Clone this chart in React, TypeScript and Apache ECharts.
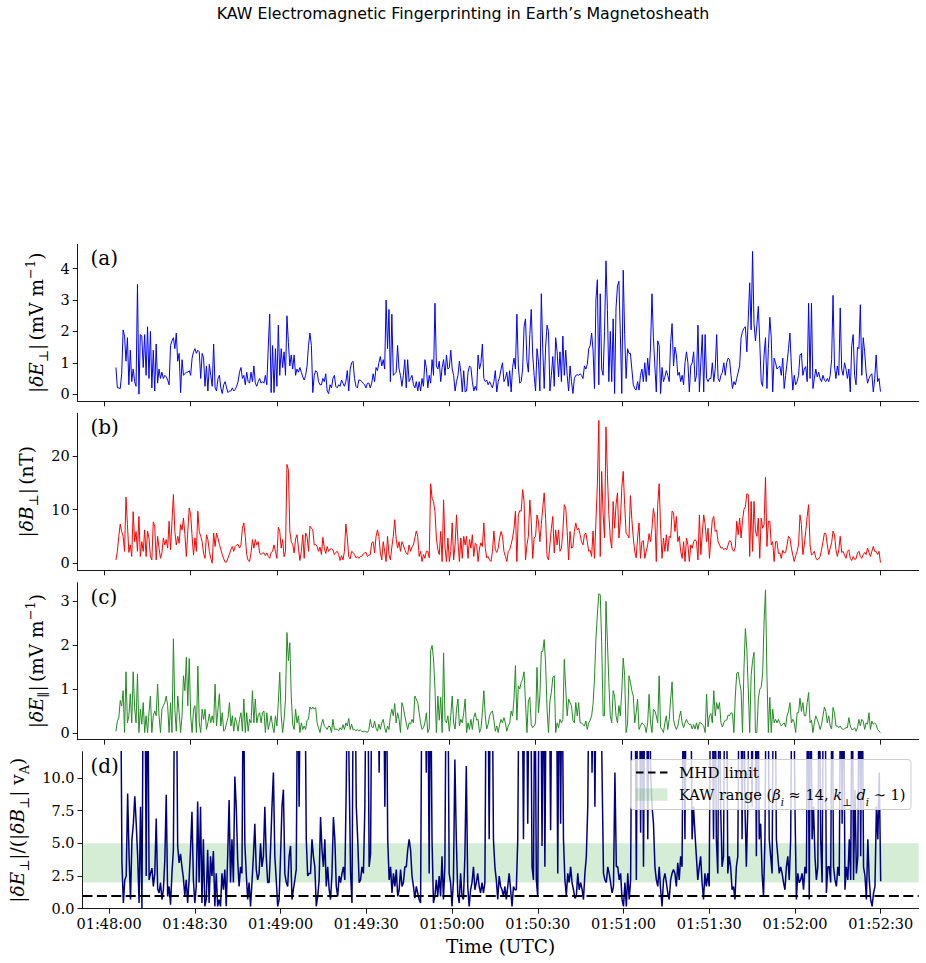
import React, { useEffect, useRef } from "react";
import * as echarts from "echarts";

// Sampling: first sample 4 s after 01:48:00 UTC, one sample every 0.5 s.
const T_START = 4;
const T_STEP = 0.5;

// |dE_perp| (mV/m)
const ePerp = [
  0.85,0.2,0.2,0.18,0.65,2.05,1.85,1.05,1.8,0.3,
  1.4,0.4,0.8,0.4,0.25,3.5,0.0,1.9,1.85,0.85,
  1.9,0.6,2.15,0.5,2.0,0.2,1.4,0.1,1.6,0.35,
  0.8,0.5,0.7,0.5,0.6,0.55,0.45,0.3,1.55,1.7,
  1.8,1.45,1.95,1.05,1.3,0.05,1.1,0.6,0.65,0.7,
  0.7,0.75,0.6,1.15,1.35,1.45,1.3,1.4,1.35,0.5,
  1.3,1.15,0.25,0.9,0.1,0.95,0.6,0.25,1.6,0.2,
  0.1,0.5,0.6,0.2,0.02,0.3,0.4,0.2,0.05,0.1,
  0.1,0.2,0.1,0.15,0.25,0.4,0.7,0.85,0.5,0.6,
  0.3,0.7,0.4,0.35,0.7,0.4,0.9,0.35,0.25,0.4,
  0.5,0.35,0.4,0.35,0.6,0.3,1.5,2.55,0.05,1.55,
  0.05,1.45,0.25,2.2,0.6,1.45,0.85,1.35,0.6,2.5,
  1.65,0.9,1.25,0.8,1.25,0.6,0.8,0.7,0.85,0.7,
  0.55,0.45,0.6,0.9,1.55,1.95,1.55,0.05,0.6,0.75,
  0.7,0.4,0.3,0.3,0.5,0.4,0.65,0.1,0.02,0.3,
  0.2,0.5,0.6,0.25,0.2,0.3,0.25,0.45,0.35,0.25,
  0.4,0.75,0.1,0.8,1.0,1.05,0.5,0.25,0.2,0.45,
  0.45,0.4,0.35,0.3,0.2,0.35,0.35,0.2,0.35,0.65,
  0.4,0.85,0.75,1.0,1.2,0.9,1.1,0.8,3.0,1.45,
  2.7,0.4,2.55,0.6,0.65,0.7,1.55,0.8,0.6,0.25,
  0.6,1.1,0.2,1.1,0.4,0.5,0.6,0.3,0.2,0.4,
  0.1,0.4,0.1,0.5,0.25,1.1,0.85,0.2,0.6,0.35,
  1.1,0.6,2.9,0.9,0.8,1.05,0.4,0.85,1.1,0.6,
  1.25,0.8,0.85,1.4,0.8,0.6,0.1,0.4,0.6,1.05,
  0.7,0.07,0.75,0.07,0.1,0.7,0.9,0.85,0.4,0.1,
  0.25,0.12,1.25,0.8,1.0,1.6,0.5,0.4,0.45,0.3,
  0.4,0.3,0.2,0.4,0.75,0.07,0.4,0.55,0.8,1.0,
  0.4,0.5,0.7,0.25,0.75,0.07,0.85,1.15,0.8,2.55,
  0.9,0.35,0.4,0.8,2.15,2.4,1.05,0.7,1.9,2.7,
  1.25,0.6,0.1,1.45,1.05,0.1,3.2,1.45,0.18,1.5,
  2.2,2.0,0.1,0.6,1.2,0.25,1.8,1.35,0.55,1.35,
  0.4,1.85,0.6,1.4,0.6,0.1,0.9,0.4,0.02,0.5,
  0.6,0.62,0.6,0.65,0.6,0.5,0.9,0.8,0.95,1.45,
  1.55,1.95,1.4,0.18,3.0,3.65,0.3,3.2,0.8,0.6,
  2.0,4.25,2.7,0.4,2.0,0.4,2.4,0.02,2.75,3.45,
  3.6,1.9,0.02,3.95,1.9,0.5,1.45,1.3,1.3,0.8,
  0.3,0.18,0.13,0.4,0.13,0.6,0.8,0.4,1.0,0.4,
  1.15,0.6,1.5,3.2,1.8,0.9,0.07,1.7,1.55,0.02,
  0.85,0.4,0.55,0.75,0.6,0.4,1.65,2.25,0.9,1.5,
  1.25,0.6,0.7,0.4,0.6,0.3,1.0,1.35,1.0,0.07,
  0.9,1.0,1.35,0.4,0.6,2.2,0.07,1.0,1.9,0.07,
  1.9,0.5,0.4,0.5,0.5,1.0,0.4,0.8,1.9,0.5,
  0.4,0.6,0.7,1.0,0.6,1.0,1.15,1.1,0.6,0.18,
  0.4,0.3,0.5,0.7,0.9,1.8,2.0,2.1,2.15,1.35,
  2.4,3.55,2.05,4.55,2.25,1.7,2.2,2.8,1.65,0.4,
  0.25,1.25,1.8,0.18,1.45,2.45,1.8,0.07,1.15,1.0,
  0.8,0.85,0.9,0.6,1.15,0.18,0.6,1.0,1.45,1.95,
  0.9,0.13,0.6,0.3,0.4,0.6,1.25,1.3,0.6,0.8,
  0.88,0.4,2.9,0.5,2.9,0.18,0.5,0.8,0.55,0.7,
  0.5,0.4,0.6,0.45,0.4,0.5,0.4,0.6,1.1,3.15,
  0.9,0.5,0.9,0.6,2.75,0.8,0.6,1.0,0.8,0.5,
  0.8,0.07,1.55,1.9,0.6,0.3,1.5,1.45,2.85,0.6,
  1.8,1.35,0.7,0.35,0.5,0.6,0.65,0.07,0.5,1.25,
  0.4,0.5,0.08,
];

// |dB_perp| (nT)
const bPerp = [
  0.6,2.2,5.0,7.3,5.9,5.0,2.2,12.3,7.2,2.0,
  3.4,1.25,9.6,4.0,5.9,2.2,8.7,1.25,4.0,2.2,
  6.2,1.25,6.0,4.7,1.25,0.6,7.7,6.9,0.6,5.0,
  2.8,0.9,1.9,4.7,3.4,4.4,2.8,7.8,2.5,7.8,
  12.8,5.9,3.4,5.0,3.7,7.2,6.2,8.4,5.3,1.25,
  5.9,10.3,9.0,5.0,1.5,4.7,2.2,9.7,5.9,5.0,
  4.0,1.8,0.9,5.3,4.4,2.2,0.9,0.0,5.6,3.1,
  5.6,4.7,3.5,2.5,1.6,0.8,0.2,0.2,1.0,1.7,
  2.5,3.1,2.2,3.1,3.4,3.5,2.8,3.4,6.5,7.5,
  5.0,1.6,0.5,0.3,1.9,4.4,2.8,4.4,3.4,4.0,
  1.9,1.6,1.9,1.9,1.4,1.9,1.25,0.9,2.0,2.2,
  3.4,2.2,0.9,6.7,5.9,2.8,4.4,1.2,2.2,18.4,
  17.4,6.0,4.0,3.5,1.9,4.5,5.3,2.8,0.5,2.2,
  5.3,0.9,5.6,5.0,2.2,6.9,6.5,6.2,3.4,3.5,
  3.1,2.2,3.0,1.6,4.8,2.8,1.8,3.1,2.2,2.6,
  2.7,2.5,1.6,2.0,2.2,1.6,0.5,1.4,0.6,2.2,
  7.3,4.7,1.2,0.8,2.2,2.0,1.6,1.0,1.25,0.9,
  1.25,1.25,1.7,1.9,2.0,1.25,1.5,1.6,3.8,4.0,
  1.9,5.0,6.2,5.0,1.9,0.6,4.0,2.2,0.3,5.0,
  1.6,0.6,3.0,5.0,8.1,4.5,2.8,4.0,2.2,4.0,
  3.4,2.5,1.9,1.6,3.4,2.2,3.0,3.4,4.7,6.0,
  5.0,1.25,2.2,0.3,1.6,0.9,2.2,2.2,1.0,14.8,
  12.1,11.5,9.6,4.7,2.5,1.6,5.9,0.3,11.8,3.0,
  0.3,4.7,0.3,2.2,7.5,0.6,3.4,9.0,4.0,0.3,
  4.7,0.9,5.0,3.4,5.0,0.9,4.4,2.8,5.3,1.25,
  3.7,3.4,0.3,2.8,3.8,3.1,7.5,2.8,1.0,1.25,
  0.6,0.3,2.2,6.0,2.5,2.0,2.8,4.7,5.9,5.0,
  2.2,1.25,0.3,2.2,2.5,3.5,4.7,6.5,9.7,0.3,
  9.0,9.8,9.7,13.7,11.5,0.6,3.4,5.0,11.8,7.8,
  0.9,4.7,5.0,9.0,7.8,4.0,7.2,10.3,13.1,8.4,
  1.25,0.6,3.4,6.5,8.7,1.9,6.2,3.4,6.2,2.2,
  2.8,6.0,10.9,10.3,5.9,0.6,5.9,2.8,3.0,5.9,
  7.5,6.2,6.5,5.3,4.0,3.4,5.3,5.6,4.0,2.2,
  2.4,1.25,6.0,0.9,7.8,14.6,26.6,1.25,17.1,9.1,
  4.7,25.4,16.5,9.1,4.7,2.8,11.5,6.5,10.9,13.1,
  4.7,7.8,14.0,17.1,10.9,5.5,5.3,4.7,12.6,8.1,
  4.7,2.2,1.0,4.7,7.5,0.9,4.0,4.2,0.9,2.2,
  3.4,5.5,4.0,6.5,10.2,8.4,0.3,10.9,14.8,6.5,
  0.9,4.7,2.2,5.3,2.2,5.0,4.7,9.7,9.4,5.9,
  8.7,4.0,5.0,2.2,0.9,4.0,0.3,4.7,3.4,0.3,
  3.4,2.8,4.0,4.4,4.0,0.6,9.0,1.6,5.6,9.0,
  7.2,4.0,6.5,0.9,4.7,8.1,8.7,5.9,6.2,4.0,
  3.4,2.8,2.9,2.5,2.8,2.5,3.4,4.2,4.0,2.5,
  2.2,3.0,7.8,5.3,8.4,4.7,8.0,10.0,10.5,12.9,
  12.8,1.25,11.5,2.2,11.5,6.0,5.0,8.4,0.9,8.4,
  6.5,7.2,16.0,3.1,7.8,7.8,3.4,4.0,0.3,4.0,
  4.0,1.8,1.9,0.9,2.4,1.9,2.0,3.4,5.0,4.7,
  2.8,1.5,0.3,1.4,2.2,3.4,9.0,7.2,1.6,3.4,
  5.9,8.7,10.9,3.4,1.5,1.8,2.2,1.0,0.6,0.8,
  1.25,2.5,4.0,5.6,5.5,3.4,1.6,2.8,3.8,6.0,
  5.3,2.5,1.25,2.5,5.0,2.0,2.2,1.5,0.9,2.2,
  2.5,0.9,0.5,1.25,0.7,0.8,1.9,2.2,1.25,0.9,
  1.6,2.0,1.6,2.8,2.0,1.25,2.2,3.1,2.2,2.2,
  1.6,2.2,0.1,
];

// |dE_par| (mV/m)
const ePar = [
  0.05,0.28,0.35,0.75,0.62,0.97,0.02,1.4,0.24,0.4,
  0.9,0.24,1.4,0.59,0.24,1.35,0.02,0.55,0.21,0.7,
  0.02,0.4,0.02,0.47,0.85,0.02,0.4,0.51,0.4,1.12,
  0.4,0.02,0.55,0.63,0.7,0.85,0.63,0.02,0.7,0.02,
  2.15,0.55,0.05,0.85,0.47,0.02,0.4,1.31,0.97,1.73,
  0.63,1.7,0.4,0.02,0.55,0.63,0.02,1.53,0.24,0.02,
  0.55,0.32,0.55,0.09,0.24,0.44,0.24,0.4,0.24,1.12,
  0.17,0.55,0.9,0.17,0.47,0.05,0.09,0.24,0.36,0.7,
  0.17,0.4,0.05,0.36,0.24,0.05,0.32,0.47,0.05,0.78,
  0.02,0.47,0.05,0.32,0.24,0.97,0.24,0.78,0.24,0.4,
  0.47,0.24,0.47,0.51,0.02,0.47,0.09,0.24,0.4,0.17,
  0.02,0.4,0.17,0.7,1.39,0.4,0.02,0.32,0.78,2.29,
  1.65,2.06,0.85,0.2,0.09,0.55,0.24,0.4,0.02,0.24,
  0.09,0.17,0.09,0.3,0.32,0.6,0.55,0.6,0.55,0.59,
  0.24,0.13,0.02,0.21,0.32,0.17,0.14,0.09,0.17,0.15,
  0.02,0.32,0.09,0.1,0.09,0.06,0.13,0.08,0.2,0.09,
  0.24,0.17,0.34,0.09,0.21,0.08,0.09,0.06,0.09,0.05,
  0.08,0.05,0.04,0.05,0.04,0.02,0.09,0.32,0.15,0.13,
  0.28,0.12,0.05,0.21,0.09,0.24,0.32,0.13,0.02,0.17,
  0.09,0.4,0.55,0.4,0.68,0.24,0.47,0.32,0.02,0.7,
  0.59,0.4,0.24,0.09,0.24,0.21,0.32,0.24,0.85,0.78,
  0.7,0.47,0.24,0.09,0.13,0.24,0.47,0.02,0.1,1.88,
  2.0,1.69,1.01,0.02,0.85,0.3,0.82,0.02,1.83,0.3,
  0.24,0.4,0.05,0.4,0.85,0.24,0.1,0.55,0.78,0.17,
  0.32,0.24,0.47,0.78,0.02,0.24,0.09,0.32,0.09,0.36,
  0.47,0.3,0.32,0.02,0.11,0.47,0.97,0.4,0.1,0.21,
  0.4,0.47,0.51,0.3,0.05,0.17,0.02,0.2,0.32,0.24,
  0.36,0.24,0.05,0.17,0.24,0.51,0.4,0.78,1.54,0.3,
  1.08,1.01,1.16,1.24,1.4,0.7,0.02,0.74,0.82,0.2,
  0.13,0.17,0.24,1.5,0.47,0.85,1.86,1.86,2.13,1.57,
  0.55,0.02,0.74,0.93,1.27,1.31,0.02,0.24,0.13,0.32,
  0.24,0.32,1.68,1.01,0.4,0.78,0.7,0.63,0.3,0.24,
  0.7,0.4,0.7,0.24,0.24,0.2,0.17,0.28,0.09,0.24,
  0.3,0.4,0.66,1.24,2.15,2.69,3.17,3.15,2.08,0.4,
  0.4,3.0,2.08,1.16,0.4,0.24,0.97,0.85,0.4,0.24,
  0.63,0.4,0.97,1.71,1.31,0.02,0.21,1.31,1.16,0.97,
  0.85,0.24,0.47,0.78,0.09,0.17,0.24,0.21,0.17,0.02,
  0.24,0.89,0.24,0.02,0.55,0.51,0.4,0.24,1.31,0.13,
  0.09,0.02,0.24,0.4,0.09,0.32,0.78,1.17,0.32,0.17,
  0.09,0.17,0.36,0.51,0.24,0.13,0.24,0.32,0.24,0.2,
  0.21,0.1,0.2,0.1,0.24,0.09,0.25,0.24,0.2,0.17,
  0.02,0.89,0.15,0.4,0.45,0.24,0.97,0.4,0.7,0.55,
  0.7,0.24,0.15,0.24,0.3,0.3,0.42,0.4,0.47,0.45,
  0.02,0.85,1.37,1.39,1.16,0.97,0.02,1.47,2.38,1.92,
  1.01,0.02,1.31,1.65,1.84,0.02,0.02,0.78,1.0,1.05,
  1.35,2.53,3.26,1.31,0.02,0.82,0.02,0.55,0.24,0.32,
  0.24,0.32,0.24,0.17,0.21,0.24,0.15,0.4,0.5,0.7,
  0.24,0.32,0.24,0.02,0.47,0.47,0.8,0.5,0.7,0.4,
  0.4,0.7,0.93,0.24,0.3,0.02,0.24,0.4,0.32,0.22,
  0.09,0.2,0.4,0.6,0.5,0.24,0.4,0.17,0.1,0.59,
  0.47,0.17,0.17,0.13,0.17,0.11,0.09,0.11,0.13,0.13,
  0.36,0.17,0.09,0.09,0.13,0.05,0.13,0.32,0.17,0.32,
  0.28,0.09,0.24,0.21,0.47,0.09,0.28,0.21,0.24,0.2,
  0.09,0.05,0.02,
];

// |dE_perp| / (|dB_perp| vA); many samples run far above the plotted range
const ratio = [
  20,3.5,0.43,2.2,2.5,8.8,4.0,0.7,5.3,6.5,
  8.6,6.5,4.0,0.43,7.8,0.05,20,20,2.5,20,
  2.2,2.7,3.1,1.7,2.7,6.9,1.5,1.2,2.0,0.7,
  1.45,3.7,8.7,0.94,1.7,0.3,2.7,4.5,20,20,
  4.8,3.5,4.2,3.2,2.35,1.0,2.2,0.43,2.2,4.5,
  7.4,2.2,0.43,1.7,8.2,2.0,7.8,0.43,5.3,0.18,
  0.7,4.5,0.43,4.0,2.5,4.4,0.18,2.7,0.18,0.7,
  0.18,2.7,1.45,3.0,0.18,4.0,8.3,2.0,5.3,2.0,
  10.1,7.8,3.7,1.7,3.2,2.7,20,5.0,2.7,0.7,
  2.0,0.18,2.0,4.0,6.5,3.0,2.2,2.7,5.0,3.2,
  4.0,7.8,4.0,2.0,2.0,4.5,7.8,10.4,4.0,2.2,
  0.18,0.7,4.0,7.8,9.1,2.7,2.0,1.7,4.0,4.8,
  0.7,1.5,2.2,3.0,20,7.8,20,20,20,20,
  5.3,2.5,2.7,2.7,5.3,4.0,3.2,0.18,0.94,2.2,
  7.0,4.5,3.2,5.3,1.7,3.2,1.5,0.7,2.7,7.0,
  5.3,1.7,0.94,2.5,2.0,2.7,3.2,2.2,9.6,20,
  10.4,2.7,0.43,20,20,7.8,5.3,2.0,2.2,3.2,
  2.7,7.8,20,20,3.2,4.2,20,20,20,20,
  20,10.4,20,20,20,7.8,20,5.3,2.2,3.2,
  1.2,2.7,1.7,3.0,0.94,1.45,3.0,1.7,2.0,3.2,
  3.2,4.5,5.3,4.5,2.5,1.7,0.8,1.7,1.2,0.7,
  0.43,20,20,20,10.4,20,2.7,20,5.3,0.43,
  0.94,2.2,0.94,2.5,0.94,4.0,0.7,3.2,20,20,
  2.7,2.0,0.18,2.2,11.4,5.3,1.2,0.43,2.7,0.94,
  0.7,4.0,10.9,1.7,0.18,1.45,2.0,3.2,1.45,2.0,
  2.7,1.7,1.2,2.0,1.2,2.0,20,20,5.3,20,
  20,5.3,3.2,2.2,0.7,2.5,1.7,1.45,0.94,1.7,
  0.7,1.7,2.7,1.45,0.18,1.7,1.45,1.45,5.3,20,
  20,20,5.3,20,20,6.5,20,20,3.2,2.2,
  20,2.2,0.94,20,20,4.8,20,3.2,20,20,
  20,6.0,20,20,20,20,2.7,20,6.5,20,
  5.3,2.2,1.0,2.7,2.0,3.2,2.0,1.45,0.8,0.94,
  2.7,1.45,2.0,1.5,0.7,2.7,4.0,7.8,20,20,
  10.4,20,7.8,20,20,20,20,10.4,2.7,2.2,
  2.0,3.2,2.7,2.0,1.2,1.7,10.4,3.2,3.2,2.2,
  2.7,0.7,0.18,2.0,0.18,2.7,0.7,2.2,20,20,
  20,2.2,20,20,5.8,20,3.2,20,20,5.3,
  20,10.4,7.8,6.5,3.2,2.2,1.7,3.2,1.45,0.18,
  2.2,2.7,2.0,1.2,0.7,2.2,2.7,3.0,2.7,1.7,
  3.5,2.2,4.0,3.2,20,5.3,20,20,20,20,
  5.3,7.8,5.8,4.0,2.2,3.2,4.0,2.0,0.7,2.7,
  1.7,2.7,1.7,20,20,5.3,20,5.3,2.7,20,
  7.8,3.2,4.0,20,20,2.7,4.0,3.2,1.45,1.7,
  0.7,3.2,4.0,20,20,5.3,20,7.8,3.2,7.8,
  20,20,7.8,20,20,4.0,20,5.3,6.5,2.7,
  0.94,5.3,20,20,5.3,4.0,2.7,20,20,5.3,
  4.0,2.7,3.2,2.7,2.0,1.45,3.2,4.0,2.2,5.3,
  20,20,7.8,0.7,2.7,2.0,2.2,2.7,1.45,3.2,
  2.7,20,0.7,20,5.3,7.8,4.0,2.2,3.2,20,
  5.3,2.0,20,20,1.2,3.2,3.2,2.0,20,3.2,
  2.2,1.7,3.2,2.5,20,6.5,20,1.45,3.2,2.2,
  5.3,2.2,20,2.2,9.1,2.7,4.0,20,4.0,20,
  3.2,2.5,0.7,5.3,2.2,0.7,0.18,1.2,1.7,7.8,
  5.3,10.4,2.1,
];

const TIME_TICKS = [0, 30, 60, 90, 120, 150, 180, 210, 240, 270];
const E_PERP_TICKS = [0, 1, 2, 3, 4];
const B_PERP_TICKS = [0, 10, 20];
const E_PAR_TICKS = [0, 1, 2, 3];
const RATIO_TICKS = [0, 2.5, 5, 7.5, 10];
const RATIO_RANGE = [0, 12];
const KAW_BAND = [2, 5];
const MHD_LIMIT = 1;
const PANEL_LETTERS = ["(a)", "(b)", "(c)", "(d)"];

const TITLE = "KAW Electromagnetic Fingerprinting in Earth\u2019s Magnetosheath";
const SERIF = "'DejaVu Serif', serif";
const BAND_COLOR = "rgba(44,160,44,0.2)";

const GRID_LEFT = 77.7;
const GRID_WIDTH = 841;
const GRID_TOPS = [244.3, 413.3, 582.7, 751.7];
const GRID_HEIGHT = 157;

const toPairs = (vals: number[]) => vals.map((v, i) => [T_START + i * T_STEP, v]);

// 5 % padding on both sides, like matplotlib's default autoscale margins
const padded = (lo: number, hi: number) => {
  const m = (hi - lo) * 0.05;
  return [lo - m, hi + m];
};
const valueRange = (vals: number[]) => padded(Math.min(...vals), Math.max(...vals));

const two = (n: number) => String(n).padStart(2, "0");
const clock = (s: number) => {
  const total = 48 * 60 + Math.round(s);
  return `01:${two(Math.floor(total / 60))}:${two(total % 60)}`;
};

const rich = (size: number) => ({
  n: { fontFamily: SERIF, fontSize: size, lineHeight: 26, color: "#000" },
  i: { fontFamily: SERIF, fontSize: size, fontStyle: "italic", lineHeight: 26, color: "#000" },
  sb: { fontFamily: SERIF, fontSize: size * 0.7, verticalAlign: "bottom", lineHeight: 17, color: "#000" },
  sbi: { fontFamily: SERIF, fontSize: size * 0.7, fontStyle: "italic", verticalAlign: "bottom", lineHeight: 17, color: "#000" },
  sp: { fontFamily: SERIF, fontSize: size * 0.7, verticalAlign: "top", lineHeight: 17, color: "#000" },
});

const Y_NAMES = [
  "{n||}{i|\u03b4E}{sb|\u22a5}{n||} {n|(mV m}{sp|\u22121}{n|)}",
  "{n||}{i|\u03b4B}{sb|\u22a5}{n||} {n|(nT)}",
  "{n||}{i|\u03b4E}{sb|\u2225}{n||} {n|(mV m}{sp|\u22121}{n|)}",
  "{n||}{i|\u03b4E}{sb|\u22a5}{n||/(|}{i|\u03b4B}{sb|\u22a5}{n|| v}{sb|A}{n|)}",
];
const Y_NAME_GAPS = [27, 38, 27, 52];

export default function App() {
  const ref = useRef<HTMLDivElement>(null);

  useEffect(() => {
    if (!ref.current) return;
    const chart = echarts.init(ref.current, undefined, { renderer: "svg" });

    const tEnd = T_START + (ePerp.length - 1) * T_STEP;
    const [xMin, xMax] = padded(T_START, tEnd);

    const yRanges = [valueRange(ePerp), valueRange(bPerp), valueRange(ePar), RATIO_RANGE];
    const yTicks = [E_PERP_TICKS, B_PERP_TICKS, E_PAR_TICKS, RATIO_TICKS];
    const yFormat = [
      (v: number) => String(v),
      (v: number) => String(v),
      (v: number) => String(v),
      (v: number) => v.toFixed(1),
    ];

    const axisLine = { show: true, onZero: false, lineStyle: { color: "#000", width: 0.9 } };
    const tickStyle = { color: "#000", width: 0.9 };

    const grids = GRID_TOPS.map((top) => ({
      left: GRID_LEFT,
      top,
      width: GRID_WIDTH,
      height: GRID_HEIGHT,
      containLabel: false,
    }));

    const xAxes = GRID_TOPS.map((_, i) => ({
      type: "value",
      gridIndex: i,
      min: xMin,
      max: xMax,
      axisLine,
      axisTick: { show: true, customValues: TIME_TICKS, length: 5, lineStyle: tickStyle },
      axisLabel: {
        show: i === 3,
        customValues: TIME_TICKS,
        formatter: clock,
        fontFamily: SERIF,
        fontSize: 14.5,
        color: "#000",
        margin: 8,
      },
      splitLine: { show: false },
      name: i === 3 ? "Time (UTC)" : "",
      nameLocation: "middle",
      nameGap: 28,
      nameTextStyle: { fontFamily: SERIF, fontSize: 18.5, color: "#000", verticalAlign: "top" },
    }));

    const yAxes = GRID_TOPS.map((_, i) => ({
      type: "value",
      gridIndex: i,
      min: yRanges[i][0],
      max: yRanges[i][1],
      axisLine,
      axisTick: { show: true, customValues: yTicks[i], length: 5, lineStyle: tickStyle },
      axisLabel: {
        customValues: yTicks[i],
        formatter: yFormat[i],
        fontFamily: SERIF,
        fontSize: 14.5,
        color: "#000",
        margin: 8,
      },
      splitLine: { show: false },
      name: Y_NAMES[i],
      nameLocation: "middle",
      nameGap: Y_NAME_GAPS[i],
      nameTextStyle: { rich: rich(18.5) },
    }));

    const lineSeries = (data: number[], idx: number, color: string, width: number) => ({
      type: "line",
      xAxisIndex: idx,
      yAxisIndex: idx,
      data: toPairs(data),
      showSymbol: false,
      symbol: "none",
      clip: true,
      silent: true,
      lineStyle: { color, width },
      itemStyle: { color },
      z: 3,
    });

    const ratioSeries: any = lineSeries(ratio, 3, "#000080", 1.5);
    ratioSeries.markArea = {
      silent: true,
      itemStyle: { color: BAND_COLOR },
      data: [[{ yAxis: KAW_BAND[0] }, { yAxis: KAW_BAND[1] }]],
    };
    ratioSeries.markLine = {
      silent: true,
      symbol: ["none", "none"],
      label: { show: false },
      lineStyle: { color: "#000", width: 2.2, type: [10, 4.4] },
      data: [{ yAxis: MHD_LIMIT }],
    };

    const letters = PANEL_LETTERS.map((t, i) => ({
      type: "text",
      x: 90.5,
      y: GRID_TOPS[i] + 14,
      z: 50,
      style: { text: t, fontFamily: SERIF, fontSize: 20, fill: "#000", verticalAlign: "middle" },
    }));

    const legend = [
      {
        type: "rect",
        z: 100,
        shape: { x: 630.5, y: 759.5, width: 280.5, height: 50, r: 3 },
        style: { fill: "rgba(255,255,255,0.8)", stroke: "#cccccc", lineWidth: 1 },
      },
      {
        type: "line",
        z: 101,
        shape: { x1: 636, y1: 772.5, x2: 667.5, y2: 772.5 },
        style: { stroke: "#000", lineWidth: 2.2, lineDash: [7.5, 4.5] },
      },
      {
        type: "text",
        z: 101,
        x: 679,
        y: 772.5,
        style: { text: "MHD limit", fontFamily: SERIF, fontSize: 15, fill: "#000", verticalAlign: "middle" },
      },
      {
        type: "rect",
        z: 101,
        shape: { x: 636, y: 788.3, width: 31.5, height: 12.5 },
        style: { fill: BAND_COLOR },
      },
      {
        type: "text",
        z: 101,
        x: 679,
        y: 794.5,
        style: {
          text: "{n|KAW range (}{i|\u03b2}{sbi|i}{n| \u2248 14, }{i|k}{sb|\u22a5}{i| d}{sbi|i}{n| \u223c 1)}",
          verticalAlign: "middle",
          rich: rich(14.6),
        },
      },
    ];

    chart.setOption({
      animation: false,
      backgroundColor: "#ffffff",
      grid: grids,
      xAxis: xAxes,
      yAxis: yAxes,
      series: [
        lineSeries(ePerp, 0, "#0000ff", 1),
        lineSeries(bPerp, 1, "#ff0000", 1),
        lineSeries(ePar, 2, "#228b22", 1),
        ratioSeries,
      ],
      graphic: [
        {
          type: "text",
          x: 463,
          y: 13,
          style: {
            text: TITLE,
            fontFamily: "'DejaVu Sans', sans-serif",
            fontSize: 15.8,
            fill: "#000",
            align: "center",
            verticalAlign: "middle",
          },
        },
        ...letters,
        ...legend,
      ],
    });

    return () => chart.dispose();
  }, []);

  return (
    <div
      ref={ref}
      style={{ position: "absolute", left: 0, top: 0, width: 926, height: 963, background: "#fff" }}
    />
  );
}
